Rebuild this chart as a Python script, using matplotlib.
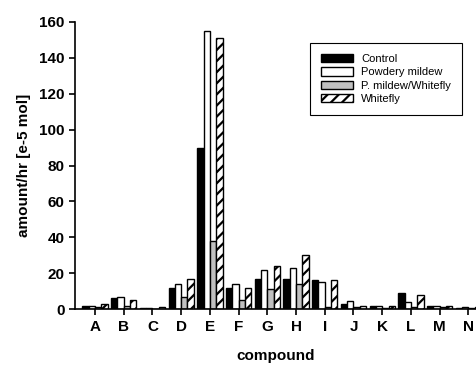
import matplotlib
matplotlib.use('Agg')
import matplotlib.pyplot as plt
import numpy as np

compounds = ['A', 'B', 'C', 'D', 'E', 'F', 'G', 'H', 'I', 'J', 'K', 'L', 'M', 'N']
control = [1.5, 6, 0.5, 12, 90, 12, 17, 17, 16, 3, 1.5, 9, 1.5, 0.5]
powdery_mildew = [1.5, 7, 0.5, 14, 155, 14, 22, 23, 15, 4.5, 2, 4, 2, 1]
pm_whitefly = [1, 2, 0.3, 7, 38, 5, 11, 14, 1, 1, 0.5, 1, 1, 0.5]
whitefly = [3, 5, 1, 17, 151, 12, 24, 30, 16, 2, 2, 8, 1.5, 1]

plt.rcParams['font.family'] = ['Liberation Sans', 'DejaVu Sans']
plt.rcParams['hatch.linewidth'] = 1.6

fig = plt.figure(figsize=(4.77, 3.72), dpi=100)
ax = fig.add_axes([0.157, 0.169, 0.843, 0.772])

x = np.arange(len(compounds))
w = 0.22
series = [
    (control, 'Control', 'black', None),
    (powdery_mildew, 'Powdery mildew', 'white', None),
    (pm_whitefly, 'P. mildew/Whitefly', '#c0c0c0', None),
    (whitefly, 'Whitefly', 'white', '///'),
]
for i, (vals, label, color, hatch) in enumerate(series):
    ax.bar(x + (i - 1.5) * w, vals, w, color=color, edgecolor='black',
           linewidth=1.0, hatch=hatch, label=label)

ax.set_xlim(-0.7, 13.3)
ax.set_ylim(0, 160)
ax.set_yticks(range(0, 161, 20))
ax.set_xticks(x)
ax.set_xticklabels(compounds)
ax.spines['top'].set_visible(False)
ax.spines['right'].set_visible(False)
ax.spines['left'].set_linewidth(1.2)
ax.spines['bottom'].set_linewidth(1.2)
ax.tick_params(direction='out', length=4, width=1.2, labelsize=11)
for lbl in ax.get_xticklabels() + ax.get_yticklabels():
    lbl.set_fontweight('bold')

ax.set_xlabel('compound', fontsize=11, fontweight='bold', labelpad=11)
ax.set_ylabel('amount/hr [e-5 mol]', fontsize=11, fontweight='bold', labelpad=6)

leg = ax.legend(loc='upper right', bbox_to_anchor=(0.963, 0.927), fontsize=8,
                fancybox=False, framealpha=1, edgecolor='black',
                handlelength=2.9, handleheight=0.75, borderpad=1.0,
                labelspacing=0.3, handletextpad=0.7, borderaxespad=0)
leg.get_frame().set_linewidth(0.8)

plt.savefig('out.png', dpi=100)
